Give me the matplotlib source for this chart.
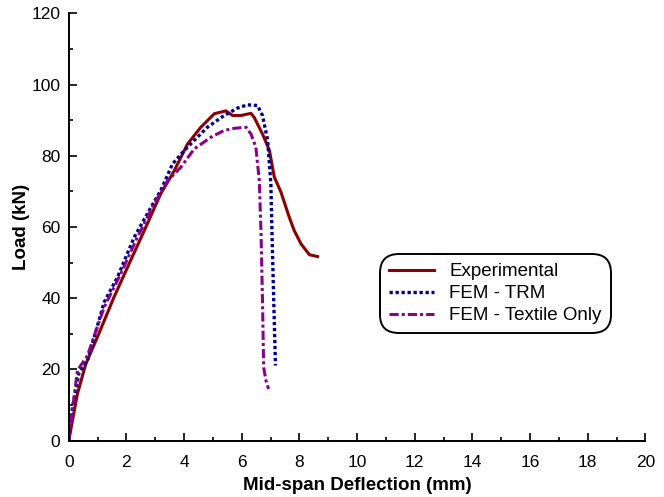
import matplotlib
matplotlib.use("Agg")
import matplotlib.pyplot as plt
from matplotlib.ticker import MultipleLocator

plt.rcParams["font.family"] = ["Liberation Sans", "DejaVu Sans"]

# Experimental
exp_x = [0, 0.30, 0.59, 0.99, 1.57, 2.04, 2.62, 3.19, 3.66, 4.12, 4.58, 5.05, 5.45,
         5.68, 5.97, 6.32, 6.43, 6.72, 6.96, 7.13, 7.36, 7.65, 7.82, 8.06, 8.35, 8.63]
exp_y = [0, 13.1, 21.5, 29.0, 40.3, 48.7, 59.0, 69.3, 75.8, 83.3, 88.0, 91.8, 92.6,
         91.3, 91.3, 91.9, 90.8, 86.1, 81.5, 74.0, 69.8, 62.7, 59.0, 55.2, 52.2, 51.7]

# FEM - TRM
trm_x = [0, 0.13, 0.36, 0.65, 1.23, 1.69, 2.27, 2.85, 3.19, 3.60, 4.01, 4.35, 4.81,
         5.39, 5.86, 6.20, 6.55, 6.72, 6.90, 7.01, 7.05, 7.11, 7.17]
trm_y = [0, 9.4, 19.2, 22.5, 38.9, 45.9, 57.1, 65.5, 70.2, 77.7, 81.5, 84.3, 88.0,
         91.3, 93.4, 94.3, 94.1, 91.3, 84.3, 72.1, 58.1, 39.3, 21.1]

# FEM - Textile Only
tex_x = [0, 0.30, 0.65, 1.23, 1.80, 2.38, 2.96, 3.43, 3.89, 4.35, 4.93, 5.39, 5.74,
         6.15, 6.32, 6.49, 6.61, 6.67, 6.72, 6.76, 6.84, 6.93]
tex_y = [0, 19.7, 23.9, 37.5, 46.8, 57.1, 66.5, 73.0, 76.8, 81.9, 85.2, 87.1, 87.7,
         88.0, 86.1, 82.4, 73.0, 58.1, 39.3, 20.6, 16.9, 14.5]

fig = plt.figure(figsize=(6.64, 4.97), dpi=100)
ax = fig.add_axes([0.1035, 0.1133, 0.8685, 0.86])

ax.plot(exp_x, exp_y, color="#8b0000", lw=2.2, label="Experimental")
ax.plot(trm_x, trm_y, color="#00008b", lw=2.4, ls=(0, (1, 0.8)), label="FEM - TRM")
ax.plot(tex_x, tex_y, color="#8b008b", lw=2.2, ls=(0, (3, 1, 1, 1)),
        label="FEM - Textile Only")

ax.set_xlim(0, 20)
ax.set_ylim(0, 120)
ax.xaxis.set_major_locator(MultipleLocator(2))
ax.xaxis.set_minor_locator(MultipleLocator(1))
ax.yaxis.set_major_locator(MultipleLocator(20))
ax.yaxis.set_minor_locator(MultipleLocator(10))
ax.tick_params(which="both", direction="in", width=1.2, labelsize=12.5)
ax.tick_params(which="major", length=6)
ax.tick_params(which="minor", length=3)
ax.tick_params(axis="x", which="major", pad=10)
ax.tick_params(axis="y", which="major", pad=6)
for s in ["top", "right"]:
    ax.spines[s].set_visible(False)
for s in ["left", "bottom"]:
    ax.spines[s].set_linewidth(1.4)

ax.set_xlabel("Mid-span Deflection (mm)", fontsize=13.5, fontweight="bold", labelpad=5)
ax.set_ylabel("Load (kN)", fontsize=13.5, fontweight="bold", labelpad=1)

leg = ax.legend(loc="upper left", bbox_to_anchor=(0.53, 0.45), fontsize=13.5,
                fancybox=True, framealpha=1, edgecolor="black", handlelength=2.4,
                handletextpad=0.8, labelspacing=0.25, borderpad=0.3)
leg.get_frame().set_linewidth(1.4)
leg.get_frame().set_boxstyle("round", pad=0.2, rounding_size=1.0)

fig.savefig("out.png", dpi=100)
